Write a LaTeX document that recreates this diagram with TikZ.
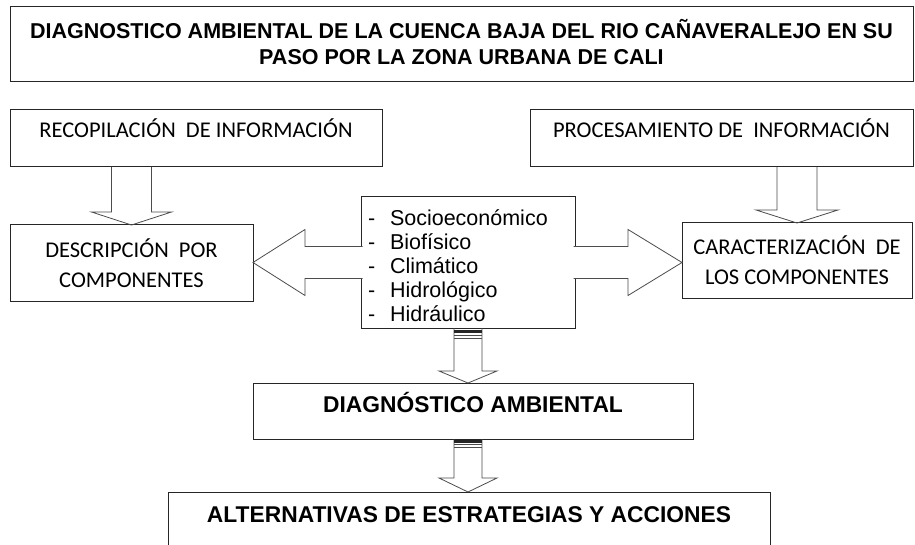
\documentclass[tikz,border=0pt]{standalone}
\usepackage{fontspec}
\setmainfont{Liberation Sans}
\newfontfamily\calibri{Carlito}
\usetikzlibrary{calc}

\tikzset{
  caja/.style={draw=black!85, line width=1pt, rectangle, inner sep=0pt, outer sep=0pt},
  flecha/.style={draw=black!70, line width=0.8pt, line join=miter},
  textocal/.style={font={\calibri\fontsize{22.5}{30}\selectfont}},
  textonegro/.style={font={\fontsize{22.8}{26}\selectfont\bfseries}},
}

% hollow arrow pointing down: top point, tip, half shaft, half head, head length
\newcommand{\flechav}[5]{%
  \draw[flecha] ($(#1)+(-#3,0)$) -- ($(#2)+(-#3,-#5)$) -- ($(#2)+(-#4,-#5)$) -- (#2)
    -- ($(#2)+(#4,-#5)$) -- ($(#2)+(#3,-#5)$) -- ($(#1)+(#3,0)$);}
% hollow arrow sideways: start, tip, half shaft, half head, signed head length
\newcommand{\flechah}[5]{%
  \draw[flecha, fill=white] ($(#1)+(0,-#3)$) -- ($(#2)+(#5,-#3)$) -- ($(#2)+(#5,-#4)$) -- (#2)
    -- ($(#2)+(#5,#4)$) -- ($(#2)+(#5,#3)$) -- ($(#1)+(0,#3)$);}

\begin{document}
\begin{tikzpicture}[x=1pt, y=-1pt]
    \clip (0,0) rectangle (915,545);
    \fill[white] (0,0) rectangle (915,545);

    \node (titulo) [caja, minimum width=903, minimum height=75, align=center, font={\fontsize{21.5}{26}\selectfont\bfseries}] at (461.5,44.5) {DIAGNOSTICO AMBIENTAL DE LA CUENCA BAJA DEL RIO CAÑAVERALEJO EN SU\\PASO POR LA ZONA URBANA DE CALI\rule[-5pt]{0pt}{5pt}};
    \node (recop) [caja, textocal, minimum width=372, text height=28, text depth=29] at (196,138.5) {RECOPILACIÓN\ \ DE INFORMACIÓN};
    \node (proc) [caja, textocal, minimum width=383, text height=28, text depth=29] at (721.5,138.5) {PROCESAMIENTO DE\ \ INFORMACIÓN};
    \node (desc) [caja, textocal, minimum width=243, minimum height=76, align=center] at (131.5,263) {DESCRIPCIÓN\ \ POR\\COMPONENTES};
    \node (carac) [caja, textocal, minimum width=230, minimum height=75, align=center] at (797,260.5) {CARACTERIZACIÓN\ \ DE\\LOS COMPONENTES};
    \node (lista) [caja, minimum width=214, minimum height=131, inner xsep=7pt, text width=200pt, align=left, font={\fontsize{21.5}{24}\selectfont}] at (468,262.5) {\rule{0pt}{22pt}\makebox[22pt][l]{-}Socioeconómico\\\makebox[22pt][l]{-}Biofísico\\\makebox[22pt][l]{-}Climático\\\makebox[22pt][l]{-}Hidrológico\\\makebox[22pt][l]{-}Hidráulico};
    \node (diag) [caja, textonegro, minimum width=440, text height=29, text depth=27] at (473,411) {DIAGNÓSTICO AMBIENTAL};
    \node (alter) [caja, textonegro, minimum width=602, text height=30, text depth=40, anchor=base] at (469,522) {ALTERNATIVAS DE ESTRATEGIAS Y ACCIONES};

    \flechav{recop.south -| desc.north}{desc.north}{20}{40}{13}
    \flechav{proc.south -| carac.north}{carac.north}{20}{41}{13}

    \coordinate (salizq) at ($(lista.west)+(1.5,0)$);
    \coordinate (salder) at ($(lista.east)+(-1.5,0)$);
    \flechah{salizq}{desc.east |- lista.west}{16}{33}{52}
    \flechah{salder}{carac.west |- lista.east}{16}{33}{-54}

    \flechav{lista.south}{lista.south |- diag.north}{14}{29}{12}
    \fill[black!85] ($(lista.south)+(-14,2)$) rectangle ($(lista.south)+(14,4.5)$);
    \draw[flecha] ($(lista.south)+(-14,7)$) -- ++(28,0);
    \draw[flecha] ($(lista.south)+(-14,10)$) -- ++(28,0);

    \flechav{diag.south -| lista.south}{alter.north -| lista.south}{14}{29}{14}
    \fill[black!85] ($(diag.south -| lista.south)+(-14,1)$) rectangle ($(diag.south -| lista.south)+(14,3.5)$);
    \draw[flecha] ($(diag.south -| lista.south)+(-14,5.5)$) -- ++(28,0);
    \draw[flecha] ($(diag.south -| lista.south)+(-14,8.5)$) -- ++(28,0);
\end{tikzpicture}
\end{document}
